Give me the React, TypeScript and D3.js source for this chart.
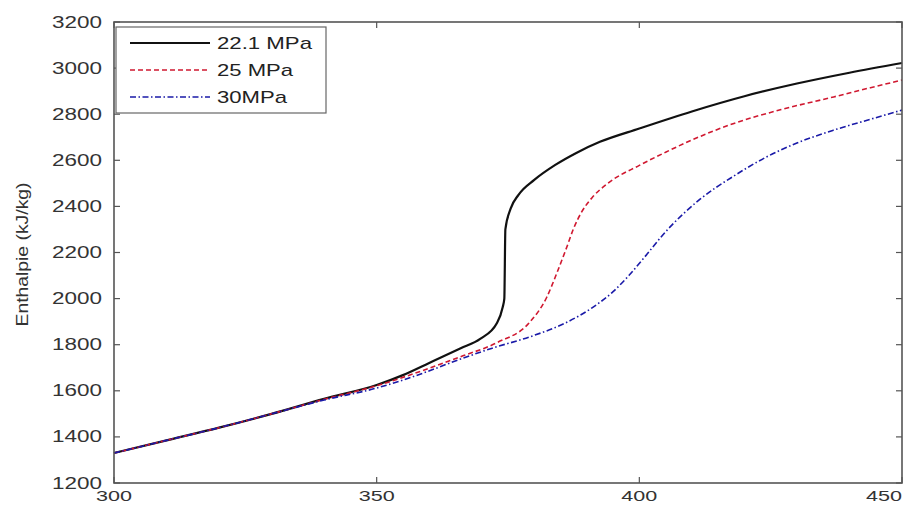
import React from "react";
import * as d3 from "d3";

const xTicks = [300, 350, 400, 450];
const yTicks = [1200, 1400, 1600, 1800, 2000, 2200, 2400, 2600, 2800, 3000, 3200];

const seriesNames = ["22.1 MPa", "25 MPa", "30MPa"];

const temp221 = [300, 310, 320, 330, 340, 350, 355, 360, 366, 369.7, 372.9, 374, 374.3, 374.5, 375.5, 377, 380, 384, 388, 392.5, 400, 410, 420, 430, 440, 450];
const enth221 = [1330, 1385, 1440, 1500, 1565, 1625, 1668, 1721, 1785, 1825, 1894, 1964, 2000, 2300, 2390, 2450, 2515, 2580, 2632, 2680, 2738, 2812, 2878, 2933, 2980, 3022];

const temp25 = [300, 310, 320, 330, 340, 350, 360, 366, 373, 379, 382.4, 384.3, 386.2, 387.5, 389, 391, 394, 400, 405, 410, 418, 427, 437, 444, 450];
const enth25 = [1330, 1385, 1440, 1500, 1563, 1622, 1698, 1748, 1810, 1894, 2007, 2111, 2224, 2305, 2375, 2438, 2500, 2578, 2635, 2688, 2760, 2820, 2875, 2915, 2948];

const temp30 = [300, 310, 320, 330, 340, 350, 358, 366, 372, 379, 386, 391, 395, 398, 401, 405, 411.5, 418, 424, 430, 437, 444, 450];
const enth30 = [1330, 1385, 1440, 1500, 1560, 1612, 1670, 1738, 1785, 1833, 1895, 1960, 2030, 2100, 2180, 2290, 2430, 2532, 2612, 2675, 2731, 2778, 2818];

const W = 903;
const H = 506;
const left = 114;
const right = 902;
const top = 22;
const bottom = 483;

const styles = [
  { color: "#111111", width: 2.2, dash: "" },
  { color: "#d01830", width: 1.6, dash: "5,3" },
  { color: "#1a1aa8", width: 1.6, dash: "6,2.5,1.5,2.5" },
];

export default function App() {
  const x = d3.scaleLinear().domain([300, 450]).range([left, right]);
  const y = d3.scaleLinear().domain([1200, 3200]).range([bottom, top]);
  const line = d3
    .line<[number, number]>()
    .x((d) => x(d[0]))
    .y((d) => y(d[1]))
    .curve(d3.curveMonotoneX);

  const series = [
    d3.zip(temp221, enth221) as [number, number][],
    d3.zip(temp25, enth25) as [number, number][],
    d3.zip(temp30, enth30) as [number, number][],
  ];

  const font = "'Liberation Sans', Arial, sans-serif";
  const axisColor = "#555";
  const labelColor = "#333";

  return (
    <svg
      width={W}
      height={H}
      style={{ position: "absolute", left: 0, top: 0, background: "#fff" }}
    >
      <rect x={0} y={0} width={W} height={H} fill="#fff" />
      {series.map((s, i) => (
        <path
          key={i}
          d={line(s) || ""}
          fill="none"
          stroke={styles[i].color}
          strokeWidth={styles[i].width}
          strokeDasharray={styles[i].dash || undefined}
        />
      ))}
      <rect
        x={left}
        y={top}
        width={right - left}
        height={bottom - top}
        fill="none"
        stroke={axisColor}
        strokeWidth={1.6}
      />
      {yTicks.map((t) => (
        <g key={"y" + t}>
          <line x1={left} x2={left + 6} y1={y(t)} y2={y(t)} stroke={axisColor} strokeWidth={1.2} />
          <line x1={right} x2={right - 6} y1={y(t)} y2={y(t)} stroke={axisColor} strokeWidth={1.2} />
          <text
            x={102}
            y={y(t)}
            textAnchor="end"
            dominantBaseline="central"
            fontFamily={font}
            fontSize={17}
            fill={labelColor}
            textLength={50}
            lengthAdjust="spacingAndGlyphs"
          >
            {t}
          </text>
        </g>
      ))}
      {xTicks.map((t) => (
        <g key={"x" + t}>
          <line x1={x(t)} x2={x(t)} y1={bottom} y2={bottom - 6} stroke={axisColor} strokeWidth={1.2} />
          <line x1={x(t)} x2={x(t)} y1={top} y2={top + 6} stroke={axisColor} strokeWidth={1.2} />
          <text
            x={Math.min(x(t), 884)}
            y={501}
            textAnchor="middle"
            fontFamily={font}
            fontSize={14}
            fill={labelColor}
            textLength={36}
            lengthAdjust="spacingAndGlyphs"
          >
            {t}
          </text>
        </g>
      ))}
      <text
        transform={`translate(28, ${(top + bottom) / 2 + 2}) rotate(-90)`}
        textAnchor="middle"
        fontFamily={font}
        fontSize={16}
        fill={labelColor}
        textLength={144}
        lengthAdjust="spacingAndGlyphs"
      >
        Enthalpie (kJ/kg)
      </text>
      <rect x={116} y={27} width={210} height={86} fill="#fff" stroke="#666" strokeWidth={1.2} />
      {seriesNames.map((n, i) => {
        const ly = 43 + i * 27;
        const widths = [95, 76, 70];
        return (
          <g key={n}>
            <line
              x1={130}
              x2={210}
              y1={ly}
              y2={ly}
              stroke={styles[i].color}
              strokeWidth={styles[i].width}
              strokeDasharray={styles[i].dash || undefined}
            />
            <text
              x={217}
              y={ly}
              dominantBaseline="central"
              fontFamily={font}
              fontSize={17}
              fill="#222"
              textLength={widths[i]}
              lengthAdjust="spacingAndGlyphs"
            >
              {n}
            </text>
          </g>
        );
      })}
    </svg>
  );
}
